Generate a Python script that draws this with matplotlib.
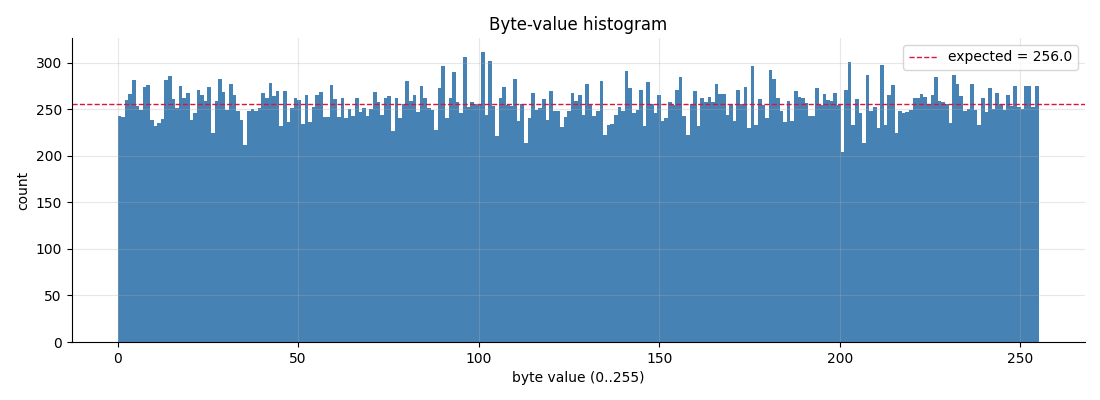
import numpy as np
import matplotlib
matplotlib.use("Agg")
from matplotlib import pyplot as plt

# counts per byte value 0..255
counts = [
    243, 242, 260, 266, 281, 254, 249, 274, 276, 239, 232, 235, 240, 281, 286, 261,
    251, 275, 262, 267, 239, 246, 271, 265, 259, 274, 224, 259, 282, 269, 249, 277,
    265, 248, 239, 212, 248, 250, 248, 251, 267, 262, 278, 264, 270, 232, 270, 236,
    251, 262, 260, 234, 265, 236, 252, 265, 269, 242, 242, 276, 261, 242, 262, 241,
    250, 243, 262, 247, 251, 243, 250, 269, 258, 244, 262, 264, 227, 262, 241, 256,
    280, 259, 265, 247, 275, 262, 251, 249, 228, 273, 296, 241, 262, 290, 258, 246,
    306, 252, 258, 256, 255, 311, 244, 302, 253, 221, 262, 274, 255, 254, 282, 237,
    256, 214, 241, 267, 249, 251, 261, 239, 270, 248, 248, 231, 242, 248, 268, 259,
    265, 244, 277, 255, 243, 248, 280, 222, 233, 234, 244, 252, 248, 291, 273, 246,
    249, 271, 232, 279, 256, 246, 265, 237, 241, 258, 255, 271, 285, 243, 222, 256,
    270, 232, 262, 258, 263, 258, 277, 266, 266, 244, 256, 237, 271, 256, 274, 230,
    296, 233, 261, 255, 241, 292, 283, 262, 248, 236, 259, 237, 270, 263, 262, 257,
    243, 243, 273, 255, 266, 260, 259, 267, 255, 204, 271, 301, 233, 261, 246, 214,
    287, 248, 252, 230, 298, 233, 265, 276, 224, 248, 246, 247, 249, 262, 262, 266,
    263, 255, 265, 285, 259, 258, 256, 235, 287, 277, 264, 248, 250, 277, 249, 233,
    262, 247, 273, 250, 268, 256, 249, 265, 254, 275, 252, 250, 275, 275, 252, 275,
]
expected = 256.0

# 256 bins spread over the data range 0..255
edges = np.linspace(0, 255, 257)

fig, ax = plt.subplots(figsize=(11, 4), dpi=100)
ax.hist(edges[:-1], bins=edges, weights=counts, color="steelblue")
ax.axhline(expected, color="crimson", linestyle="--", linewidth=1,
           label=f"expected = {expected}")
ax.set_title("Byte-value histogram")
ax.set_xlabel("byte value (0..255)")
ax.set_ylabel("count")
ax.grid(alpha=0.3)
ax.spines["top"].set_visible(False)
ax.spines["right"].set_visible(False)
ax.legend(loc="upper right")

plt.subplots_adjust(left=0.065, right=0.986, top=0.905, bottom=0.145)
plt.savefig("out.png")
